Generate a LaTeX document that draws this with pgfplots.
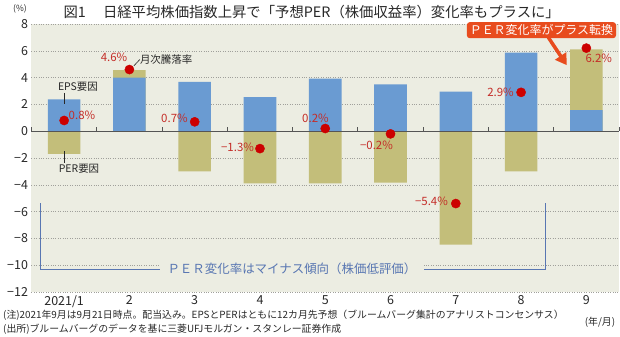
\documentclass[border=0pt]{standalone}
\usepackage{pgfplots}
\pgfplotsset{compat=1.18}
\usepackage{fontspec}
\setmainfont{Noto Sans CJK JP}
\usetikzlibrary{arrows.meta}

\definecolor{bgc}{RGB}{236,237,226}
\definecolor{epsblue}{RGB}{106,155,210}
\definecolor{perolive}{RGB}{195,190,122}
\definecolor{dotred}{RGB}{204,0,0}
\definecolor{labred}{RGB}{196,45,40}
\definecolor{brk}{RGB}{88,118,178}
\definecolor{callout}{RGB}{232,76,30}
\definecolor{gridc}{RGB}{160,160,155}
\definecolor{txt}{RGB}{40,40,40}
\definecolor{zline}{RGB}{85,85,85}

\begin{document}
\begin{tikzpicture}
\path[use as bounding box] (0,0) rectangle (620bp,337bp);
\begin{axis}[
  at={(31.5bp,45bp)}, anchor=south west,
  scale only axis, width=587.5bp, height=268bp,
  xmin=0.5, xmax=9.5, ymin=-12, ymax=8,
  axis line style={draw=none},
  axis background/.style={fill=bgc},
  major tick length=0pt,
  xtick={1,...,9},
  xticklabels={2021/1,2,3,4,5,6,7,8,9},
  ytick={-12,-10,-8,-6,-4,-2,0,2,4,6,8},
  yticklabels={−12,−10,−8,−6,−4,−2,0,2,4,6,8},
  ymajorgrids,
  grid style={gridc, dotted, line width=0.5bp},
  tick label style={font=\fontsize{12.5}{12.5}\selectfont, text=txt},
  clip=false,
]
% PER positive parts (drawn to the stacked top, EPS drawn over them)
\addplot[ybar, bar width=32.6bp, bar shift=0pt, fill=perolive, draw=none] coordinates {(2,4.55) (9,6.1)};
% EPS factor
\addplot[ybar, bar width=32.6bp, bar shift=0pt, fill=epsblue, draw=none] coordinates {(1,2.37) (2,4.0) (3,3.68) (4,2.54) (5,3.93) (6,3.5) (7,2.96) (8,5.87) (9,1.57)};
% PER factor (negative)
\addplot[ybar, bar width=32.6bp, bar shift=0pt, fill=perolive, draw=none] coordinates {(1,-1.69) (3,-3.0) (4,-3.9) (5,-3.9) (6,-3.83) (7,-8.46) (8,-3.0)};

% zero line and ticks
\draw[zline, line width=0.8bp] (axis cs:0.5,0) -- (axis cs:9.5,0);
\pgfplotsinvokeforeach{0.5,1.5,2.5,3.5,4.5,5.5,6.5,7.5,8.5,9.5}{
  \draw[zline, line width=0.8bp] (axis cs:#1,0) -- ++(0pt,4bp);
}

% bracket
\draw[brk, line width=0.9bp] (axis cs:0.63,-5.37) -- (axis cs:0.63,-10.28) -- (axis cs:8.377,-10.28) -- (axis cs:8.377,-5.35);
\node[fill=bgc, text=brk, inner xsep=8bp, inner ysep=1bp, font=\fontsize{12.5}{12.5}\selectfont] at (axis cs:4.49,-10.28) {ＰＥＲ変化率はマイナス傾向（株価低評価）};

% callout
\draw[callout, line width=3.5bp, -{Triangle[width=13bp,length=11bp]}] (axis cs:8.417,7.0) -- (axis cs:8.699,4.93);
\node[fill=callout, text=white, rounded corners=3bp, inner xsep=3bp, inner ysep=2.5bp, font=\fontsize{12}{12}\selectfont] at (axis cs:8.312,7.54) {ＰＥＲ変化率がプラス転換};

% leader lines and factor labels
\draw[txt, line width=0.6bp] (axis cs:2.067,4.87) -- (axis cs:2.159,5.35);
\node[text=txt, font=\fontsize{10.5}{10.5}\selectfont] at (axis cs:2.563,5.37) {月次騰落率};
\draw[txt, line width=0.6bp] (axis cs:1.002,2.86) -- (axis cs:1.002,2.05);
\node[text=txt, font=\fontsize{10.5}{10.5}\selectfont] at (axis cs:1.212,3.28) {EPS要因};
\draw[txt, line width=0.6bp] (axis cs:1.002,-1.49) -- (axis cs:1.002,-2.37);
\node[text=txt, font=\fontsize{10.5}{10.5}\selectfont] at (axis cs:1.228,-2.78) {PER要因};

% monthly change dots
\addplot[only marks, mark=*, mark size=4.6bp, dotred] coordinates {(1,0.8) (2,4.6) (3,0.7) (4,-1.3) (5,0.2) (6,-0.2) (7,-5.4) (8,2.9) (9,6.2)};

% value labels
\begin{scope}[every node/.style={text=labred, font=\fontsize{11.5}{11.5}\selectfont}]
\node at (axis cs:1.273,1.19) {0.8\%};
\node at (axis cs:1.764,5.52) {4.6\%};
\node at (axis cs:2.69,0.99) {0.7\%};
\node at (axis cs:3.656,-1.17) {−1.3\%};
\node at (axis cs:4.85,0.97) {0.2\%};
\node at (axis cs:5.785,-1.04) {−0.2\%};
\node at (axis cs:6.627,-5.22) {−5.4\%};
\node at (axis cs:7.685,2.93) {2.9\%};
\node at (axis cs:9.19,5.45) {6.2\%};
\end{scope}
\end{axis}

% title and outer texts
\node[anchor=west, text=txt, font=\fontsize{14.4}{14.4}\selectfont] at (60bp,325bp) {図1\hspace{1.2em}日経平均株価指数上昇で「予想PER（株価収益率）変化率もプラスに」};
\node[text=txt, font=\fontsize{8.5}{8.5}\selectfont] at (20bp,328bp) {(\%)};
\node[anchor=west, text=txt, inner xsep=0pt, font=\fontsize{9.9}{9.9}\selectfont] at (3bp,21.5bp) {(注)2021年9月は9月21日時点。配当込み。EPSとPERはともに12カ月先予想（ブルームバーグ集計のアナリストコンセンサス）};
\node[anchor=west, text=txt, inner xsep=0pt, font=\fontsize{9.9}{9.9}\selectfont] at (3bp,7.5bp) {(出所)ブルームバーグのデータを基に三菱UFJモルガン・スタンレー証券作成};
\node[text=txt, font=\fontsize{9.9}{9.9}\selectfont] at (600bp,15bp) {(年/月)};
\end{tikzpicture}
\end{document}
